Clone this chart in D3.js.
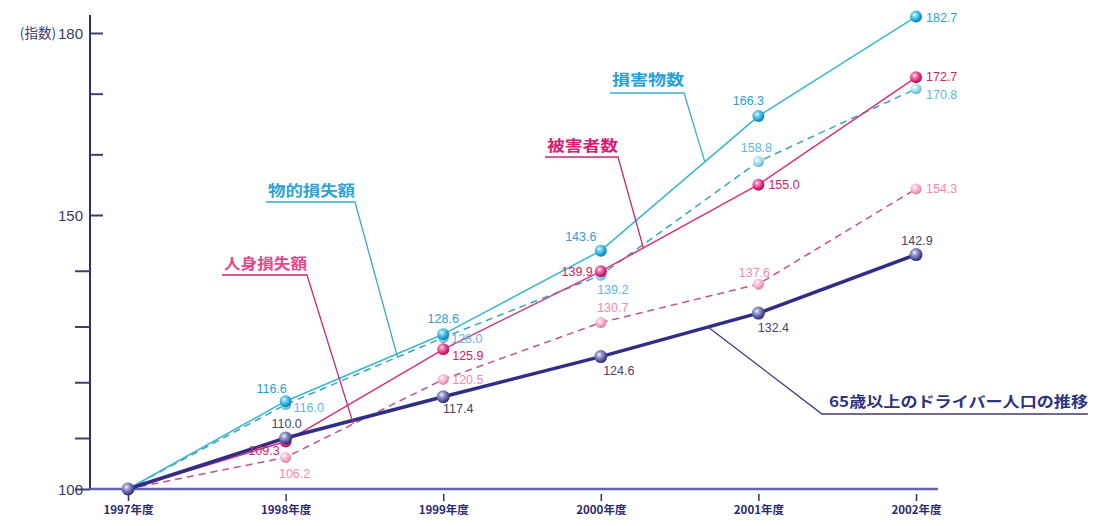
<!DOCTYPE html>
<html>
<head>
<meta charset="utf-8">
<script src="https://cdn.jsdelivr.net/npm/d3@7"></script>
<style>
  html, body { margin: 0; padding: 0; background: #fff; }
  svg { display: block; }
  text { font-family: "Liberation Sans", Arial, "Noto Sans CJK JP", sans-serif; }
  .jp { font-family: "Noto Sans CJK JP", sans-serif; }
</style>
</head>
<body>
<svg id="chart" width="1094" height="526"></svg>
<script>
// Fiscal years on the horizontal axis
const years = ["1997年度", "1998年度", "1999年度", "2000年度", "2001年度", "2002年度"];

// Index values (1997 = 100)
const damagedObjects   = [100, 116.6, 128.6, 143.6, 166.3, 182.7]; // 損害物数
const victims          = [100, 109.3, 125.9, 139.9, 155.0, 172.7]; // 被害者数
const propertyLoss     = [100, 116.0, 128.0, 139.2, 158.8, 170.8]; // 物的損失額
const personalLoss     = [100, 106.2, 120.5, 130.7, 137.6, 154.3]; // 人身損失額
const elderlyDrivers   = [100, 110.0, 117.4, 124.6, 132.4, 142.9]; // 65歳以上のドライバー人口

const yTicks = [100, 110, 120, 130, 140, 150, 160, 170, 180];
const yTickLabels = { 100: "100", 150: "150", 180: "180" };

const svg = d3.select("#chart");

const x = d3.scalePoint().domain(years).range([128, 916]);
// The index axis is compressed below 110 and slightly stretched above 150
const y = d3.scaleLinear().domain([100, 110, 150, 180]).range([489, 438, 215, 33]);

// ---------- gradients for the glossy markers ----------
const defs = svg.append("defs");
function ball(id, light, mid, dark) {
  const g = defs.append("radialGradient").attr("id", id)
    .attr("cx", "38%").attr("cy", "35%").attr("r", "65%");
  g.append("stop").attr("offset", "0%").attr("stop-color", "#ffffff");
  g.append("stop").attr("offset", "25%").attr("stop-color", light);
  g.append("stop").attr("offset", "70%").attr("stop-color", mid);
  g.append("stop").attr("offset", "100%").attr("stop-color", dark);
}
ball("gCyan", "#7fd8f4", "#1ea8dc", "#0f7fae");
ball("gMagenta", "#f58ab8", "#e0277a", "#a81458");
ball("gLightCyan", "#c8eef9", "#8fd3ec", "#5fb2d2");
ball("gPink", "#fbd3e2", "#f2a6c3", "#d97fa5");
ball("gNavy", "#a8a8d8", "#5a5aa0", "#2c2c70");

// ---------- axes ----------
const yAxis = svg.append("g")
  .attr("transform", "translate(90,0)")
  .call(d3.axisLeft(y).tickValues(yTicks).tickSize(15).tickPadding(6)
    .tickFormat(d => yTickLabels[d] || ""));
yAxis.select(".domain").attr("d", `M0,15V${y(100)}`).attr("stroke", "#2e2e6a").attr("stroke-width", 2);
yAxis.selectAll(".tick line").attr("stroke", "#3e3e70").attr("stroke-width", 2)
  .attr("x2", d => d >= 150 ? 13 : -15);
yAxis.selectAll(".tick text").attr("font-size", 15).attr("fill", "#3a3a60")
  .attr("x", -7).attr("dy", "0.35em");

svg.append("text").attr("class", "jp")
  .attr("x", 56).attr("y", y(180)).attr("dy", "0.35em")
  .attr("text-anchor", "end").attr("font-size", 13.5).attr("fill", "#3a3a80")
  .text("(指数)");

const xAxis = svg.append("g")
  .attr("transform", `translate(0,${y(100)})`)
  .call(d3.axisBottom(x).tickSize(0).tickPadding(0));
xAxis.select(".domain").attr("d", "M90,0H938").attr("stroke", "#6464b0").attr("stroke-width", 2.5);
xAxis.selectAll(".tick").append("line")
  .attr("y1", 5).attr("y2", 12).attr("stroke", "#333366").attr("stroke-width", 1.5);
xAxis.selectAll(".tick text").attr("class", "jp")
  .attr("y", 21).attr("dy", "0.35em")
  .attr("font-size", 11.5).attr("font-weight", "bold").attr("fill", "#2a2a70");

// ---------- series ----------
const series = [
  { values: personalLoss,   stroke: "#c4508e", width: 1.5, dash: "7,5", grad: "gPink",      r: 5.5,
    labelColor: "#f08ab0",
    offsets: [null, [9, 16, "middle"], [9, 0, "start"], [12, -15, "middle"], [-4, -12, "middle"], [10, 0, "start"]] },
  { values: propertyLoss,   stroke: "#3aa4b8", width: 1.5, dash: "7,5", grad: "gLightCyan", r: 5.5,
    labelColor: "#5cb8e0",
    offsets: [null, [8, 3, "start"], [8, 1, "start"], [12, 14, "middle"], [-2, -14, "middle"], [10, 6, "start"]] },
  { values: victims,        stroke: "#d8307e", width: 1.5, dash: null,  grad: "gMagenta",   r: 6,
    labelColor: "#d0206c",
    offsets: [null, [-6, 9, "end"], [9, 6, "start"], [-8, 0, "end"], [10, 0, "start"], [10, -1, "start"]] },
  { values: damagedObjects, stroke: "#3ab6d2", width: 1.5, dash: null,  grad: "gCyan",      r: 6,
    labelColor: "#2e9ed2",
    offsets: [null, [-14, -13, "middle"], [0, -16, "middle"], [-20, -14, "middle"], [-10, -15, "middle"], [10, 1, "start"]] },
  { values: elderlyDrivers, stroke: "#2e2e86", width: 3.5, dash: null,  grad: "gNavy",      r: 6.5,
    labelColor: "#45456a",
    offsets: [null, [1, -14, "middle"], [15, 12, "middle"], [18, 14, "middle"], [15, 15, "middle"], [1, -14, "middle"]] }
];

const line = d3.line().x((d, i) => x(years[i])).y(d => y(d));

series.forEach(s => {
  svg.append("path")
    .attr("d", line(s.values))
    .attr("fill", "none")
    .attr("stroke", s.stroke)
    .attr("stroke-width", s.width)
    .attr("stroke-dasharray", s.dash)
    .attr("stroke-linejoin", "round");
});

series.forEach(s => {
  svg.append("g").selectAll("circle")
    .data(s.values)
    .join("circle")
    .attr("cx", (d, i) => x(years[i]))
    .attr("cy", d => y(d))
    .attr("r", s.r)
    .attr("fill", `url(#${s.grad})`);

  svg.append("g").selectAll("text")
    .data(s.values.map((v, i) => ({ v, i, o: s.offsets[i] })).filter(d => d.o))
    .join("text")
    .attr("x", d => x(years[d.i]) + d.o[0])
    .attr("y", d => y(d.v) + d.o[1])
    .attr("dy", "0.35em")
    .attr("text-anchor", d => d.o[2])
    .attr("font-size", 12.5)
    .attr("fill", s.labelColor)
    .text(d => d.v.toFixed(1));
});

// ---------- callout labels with leader lines ----------
// Each leader ends on its own series, between two fiscal years.
function onSeries(values, i0, t) {
  const x0 = x(years[i0]), x1 = x(years[i0 + 1]);
  const y0 = y(values[i0]), y1 = y(values[i0 + 1]);
  return [x0 + (x1 - x0) * t, y0 + (y1 - y0) * t];
}

const callouts = [
  { text: "損害物数", color: "#2a9fd4", lineColor: "#3ab0c8", x0: 610, x1: 684, ty: 80, uy: 93,
    end: onSeries(damagedObjects, 3, 0.66) },
  { text: "被害者数", color: "#d81b74", lineColor: "#c8286e", x0: 545, x1: 618, ty: 146, uy: 157,
    end: onSeries(victims, 3, 0.27) },
  { text: "物的損失額", color: "#2aa4d8", lineColor: "#38a8c0", x0: 266, x1: 355, ty: 191, uy: 202,
    end: onSeries(propertyLoss, 1, 0.71) },
  { text: "人身損失額", color: "#e8468a", lineColor: "#c42a78", x0: 222, x1: 307, ty: 264, uy: 275,
    end: onSeries(personalLoss, 1, 0.43) },
  { text: "65歳以上のドライバー人口の推移", color: "#2f3380", lineColor: "#3c3c78", x0: 822, x1: 1088, ty: 402, uy: 414,
    end: onSeries(elderlyDrivers, 3, 0.68), textX: 829, reverse: true }
];

callouts.forEach(c => {
  const g = svg.append("g");
  const corner = c.reverse ? c.x0 : c.x1;
  g.append("path")
    .attr("d", `M${c.reverse ? c.x1 : c.x0},${c.uy}H${corner}L${c.end[0]},${c.end[1]}`)
    .attr("fill", "none").attr("stroke", c.lineColor).attr("stroke-width", 1.3);
  const tx = c.textX !== undefined ? c.textX : c.x0 + 2;
  g.append("text").attr("class", "jp")
    .attr("x", tx).attr("y", c.ty).attr("dy", "0.35em")
    .attr("font-size", 15).attr("font-weight", "bold").attr("fill", c.color)
    .attr("textLength", c.x1 - tx).attr("lengthAdjust", "spacingAndGlyphs")
    .text(c.text);
});
</script>
</body>
</html>
